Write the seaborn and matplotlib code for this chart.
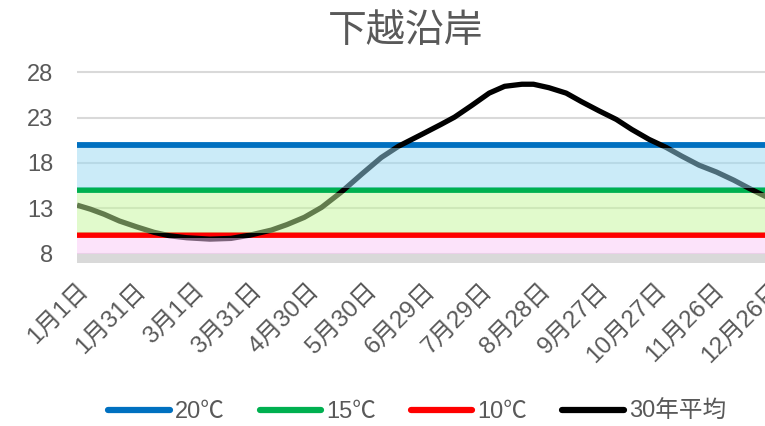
import matplotlib
matplotlib.use("Agg")
import matplotlib.pyplot as plt
import seaborn as sns
import pandas as pd
from matplotlib.lines import Line2D

# ---- data ----
title = "下越沿岸"
days = [0, 7, 14, 22, 31, 40, 48, 57, 69, 80, 90, 101, 109, 118, 127, 137, 148, 158,
        167, 179, 189, 196, 205, 214, 222, 231, 237, 245, 254, 262, 271, 280, 288,
        297, 306, 314, 323, 332, 341, 349, 358, 365]
temps = [13.35, 12.9, 12.35, 11.6, 10.95, 10.35, 9.97, 9.75, 9.6, 9.68, 10.05, 10.6,
         11.2, 12.0, 13.1, 14.75, 16.8, 18.6, 19.85, 21.15, 22.25, 23.05, 24.35, 25.7,
         26.45, 26.68, 26.68, 26.3, 25.7, 24.75, 23.75, 22.8, 21.7, 20.6, 19.7, 18.75,
         17.75, 17.0, 16.1, 15.2, 14.25, 13.6]
tick_days = [0, 30, 60, 90, 120, 150, 180, 210, 240, 270, 300, 330, 360]
tick_labels = ["1月1日", "1月31日", "3月1日", "3月31日", "4月30日", "5月30日", "6月29日",
               "7月29日", "8月28日", "9月27日", "10月27日", "11月26日", "12月26日"]
y_ticks = [8, 13, 18, 23, 28]
thresholds = [20, 15, 10]
threshold_labels = ["20℃", "15℃", "10℃"]
avg_label = "30年平均"

# ---- style ----
sns.set_theme(style="white")
plt.rcParams["font.family"] = ["Liberation Sans", "Noto Sans CJK JP", "DejaVu Sans"]
text_color = "#595959"
line_colors = ["#0070C0", "#00B050", "#FF0000"]
fill_colors = [(153/255, 217/255, 243/255), (197/255, 247/255, 155/255), (251/255, 201/255, 247/255)]

fig = plt.figure(figsize=(7.65, 4.26), dpi=100)
ax = fig.add_axes([77/765, (426-262.7)/426, 703/765, (262.7-63.2)/426])

df = pd.DataFrame({"day": days, "temp": temps})

# threshold lines
for t, c in zip(thresholds, line_colors):
    ax.axhline(t, color=c, lw=4.2, zorder=2)

# average curve
sns.lineplot(data=df, x="day", y="temp", ax=ax, color="black", lw=3.8, zorder=3,
             solid_joinstyle="round", solid_capstyle="butt")

# translucent bands (drawn over curve)
xlo, xhi = 0, 365
bands = [(thresholds[1] + 0.25, thresholds[0] - 0.35),
         (thresholds[2] + 0.3, thresholds[1] - 0.3),
         (8, thresholds[2] - 0.3)]
for (lo, hi), fc in zip(bands, fill_colors):
    ax.fill_between([xlo, xhi], lo, hi, color=fc, alpha=0.5, lw=0, zorder=4)
# bottom grey band
ax.fill_between([xlo, xhi], 7.0, 8.0, color="#D9D9D9", lw=0, zorder=4)

ax.set_xlim(0, 365)
ax.set_ylim(7.0, 29.0)
ax.set_yticks(y_ticks)
ax.set_yticklabels([str(v) for v in y_ticks], fontsize=17, color=text_color)
ax.yaxis.grid(True, color="#D9D9D9", lw=1.5, zorder=1)
ax.set_axisbelow(True)
ax.set_xticks(tick_days)
ax.set_xticklabels(tick_labels, rotation=45, ha="right", va="top",
                   rotation_mode="anchor", fontsize=17.5, color=text_color)
ax.tick_params(axis="x", length=0, pad=12)
ax.tick_params(axis="y", length=0, pad=17)
ax.set_xlabel("")
ax.set_ylabel("")
for s in ax.spines.values():
    s.set_visible(False)

fig.text(406/765, 1 - 32/426, title, ha="center", va="center", fontsize=28, color=text_color)

handles = [Line2D([0], [0], color=c, lw=4.5, solid_capstyle="round") for c in line_colors]
handles.append(Line2D([0], [0], color="black", lw=4.5, solid_capstyle="round"))
leg = fig.legend(handles, threshold_labels + [avg_label], loc="center",
                 bbox_to_anchor=(417/765, 14/426), ncol=4, frameon=False,
                 fontsize=17, handlelength=2.6, handletextpad=0.2, columnspacing=1.5)
for t in leg.get_texts():
    t.set_color(text_color)

fig.savefig("out.png", dpi=100)
